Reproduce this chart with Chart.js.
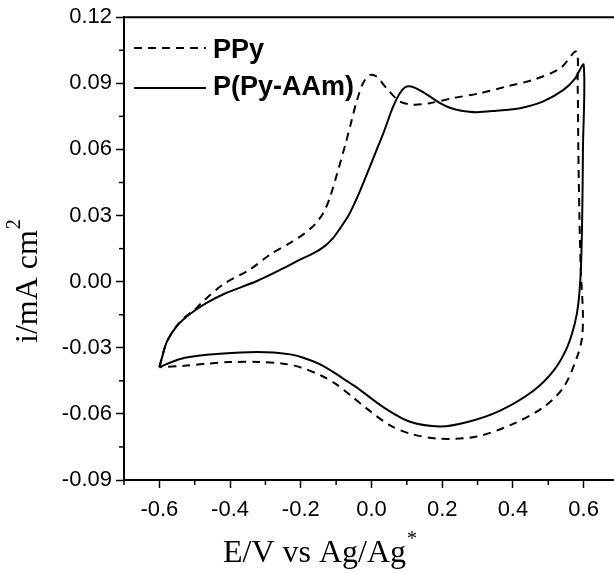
<!DOCTYPE html>
<html>
<head>
<meta charset="utf-8">
<script src="https://cdn.jsdelivr.net/npm/chart.js@4.4.1/dist/chart.umd.min.js"></script>
<style>
    body { margin: 0; background: #fff; overflow: hidden; }
    #wrap { width: 614px; height: 574px; overflow: hidden; }
</style>
</head>
<body>
<div id="wrap"><canvas id="cvChart" width="619" height="574"></canvas></div>
<script>
// PPy loop (dashed)
const ppyE = [-0.600, -0.578, -0.540, -0.494, -0.475, -0.419, -0.343, -0.286, -0.230, -0.190, -0.160, -0.135, -0.117, -0.098, -0.074, -0.058, -0.042, -0.024, -0.005, 0.014, 0.0425, 0.080, 0.118, 0.165, 0.231, 0.307, 0.383, 0.458, 0.534, 0.579,
    0.583, 0.585, 0.588, 0.592, 0.598, 0.595, 0.581, 0.543, 0.486, 0.401, 0.298, 0.194, 0.110, 0.050, -0.014, -0.060, -0.100, -0.140, -0.201, -0.250, -0.320, -0.400, -0.466, -0.530, -0.600];
const ppyI = [-0.0388, -0.0270, -0.0180, -0.0118, -0.0087, -0.0012, 0.0056, 0.0124, 0.0176, 0.0218, 0.0260, 0.0315, 0.0385, 0.0486, 0.0622, 0.0720, 0.0818, 0.0900, 0.0938, 0.0931, 0.0878, 0.0818, 0.0803, 0.0810, 0.0833, 0.0855, 0.0886, 0.0916, 0.0968, 0.1044,
    0.0900, 0.0600, 0.0300, 0.0050, -0.0150, -0.0260, -0.0344, -0.0480, -0.0570, -0.0645, -0.0703, -0.0713, -0.0690, -0.0650, -0.0575, -0.0515, -0.0465, -0.0428, -0.0389, -0.0372, -0.0364, -0.0365, -0.0372, -0.0382, -0.0388];

// P(Py-AAm) loop (solid)
const paamE = [-0.600, -0.590, -0.578, -0.550, -0.514, -0.470, -0.419, -0.324, -0.250, -0.201, -0.165, -0.135, -0.110, -0.088, -0.065, -0.041, -0.015, 0.010, 0.035, 0.060, 0.080, 0.095, 0.108, 0.125, 0.146, 0.170, 0.194, 0.220, 0.250, 0.298, 0.354, 0.420, 0.486, 0.543, 0.575, 0.600,
    0.598, 0.596, 0.592, 0.585, 0.575, 0.553, 0.515, 0.458, 0.364, 0.269, 0.194, 0.109, 0.034, -0.042, -0.080, -0.110, -0.150, -0.195, -0.230, -0.277, -0.371, -0.466, -0.541, -0.600];
const paamI = [-0.0388, -0.0330, -0.0270, -0.0200, -0.0148, -0.0100, -0.0057, 0.0003, 0.0060, 0.0101, 0.0128, 0.0158, 0.0195, 0.0244, 0.0300, 0.0380, 0.0480, 0.0580, 0.0680, 0.0790, 0.0855, 0.0882, 0.0887, 0.0878, 0.0860, 0.0835, 0.0810, 0.0790, 0.0777, 0.0769, 0.0776, 0.0787, 0.0818, 0.0870, 0.0920, 0.0984,
    0.0600, 0.0300, 0.0050, -0.0100, -0.0190, -0.0299, -0.0404, -0.0495, -0.0585, -0.0638, -0.0657, -0.0636, -0.0570, -0.0480, -0.0440, -0.0408, -0.0372, -0.0344, -0.0330, -0.0321, -0.0321, -0.0332, -0.0351, -0.0388];

const seriesNames = ["PPy", "P(Py-AAm)"];
const xTickLabels = [-0.6, -0.4, -0.2, 0.0, 0.2, 0.4, 0.6];
const yTickLabels = [-0.09, -0.06, -0.03, 0.00, 0.03, 0.06, 0.09, 0.12];

function toPoints(xs, ys) {
    return xs.map((x, i) => ({ x: x, y: ys[i] }));
}

function onList(list, v) {
    return list.some(t => Math.abs(t - v) < 1e-6);
}

// minor ticks, top frame line, legend and axis titles
const decorPlugin = {
    id: 'decor',
    afterDraw(chart) {
        const ctx = chart.ctx;
        const area = chart.chartArea;
        const xs = chart.scales.x;
        const ys = chart.scales.y;
        ctx.save();
        ctx.strokeStyle = '#000';
        ctx.lineWidth = 2;
        ctx.beginPath();
        ctx.moveTo(area.left - 1, area.top);
        ctx.lineTo(area.right, area.top);
        ctx.stroke();

        ctx.lineWidth = 1.5;
        for (let k = -7; k <= 7; k++) {
            const v = k / 10;
            if (onList(xTickLabels, v)) continue;
            const px = xs.getPixelForValue(v);
            ctx.beginPath();
            ctx.moveTo(px, area.bottom);
            ctx.lineTo(px, area.bottom + 5);
            ctx.stroke();
        }
        for (let k = -6; k <= 8; k++) {
            const v = k * 0.015;
            if (onList(yTickLabels, v)) continue;
            const py = ys.getPixelForValue(v);
            ctx.beginPath();
            ctx.moveTo(area.left, py);
            ctx.lineTo(area.left - 5, py);
            ctx.stroke();
        }

        // legend
        const legendY = [48, 88];
        const legendBase = [58, 95];
        const dashes = [[8, 6], []];
        ctx.lineWidth = 2;
        for (let i = 0; i < 2; i++) {
            ctx.setLineDash(dashes[i]);
            ctx.beginPath();
            ctx.moveTo(134, legendY[i]);
            ctx.lineTo(206, legendY[i]);
            ctx.stroke();
        }
        ctx.setLineDash([]);
        ctx.fillStyle = '#000';
        ctx.font = 'bold 27px "Liberation Sans", Arial, sans-serif';
        ctx.textBaseline = 'alphabetic';
        ctx.textAlign = 'left';
        ctx.fillText(seriesNames[0], 213, legendBase[0]);
        ctx.fillText(seriesNames[1], 213, legendBase[1]);

        // x title
        ctx.font = '32px "Liberation Serif", "Times New Roman", serif';
        const xTitle = 'E/V vs Ag/Ag';
        ctx.fillText(xTitle, 223, 562);
        const xw = ctx.measureText(xTitle).width;
        ctx.font = '20px "Liberation Serif", "Times New Roman", serif';
        ctx.fillText('*', 223 + xw + 1, 545);

        // y title
        ctx.translate(37, 343);
        ctx.rotate(-Math.PI / 2);
        ctx.font = '32px "Liberation Serif", "Times New Roman", serif';
        const yTitle = 'i/mA cm';
        ctx.fillText(yTitle, 0, 0);
        const yw = ctx.measureText(yTitle).width;
        ctx.font = '20px "Liberation Serif", "Times New Roman", serif';
        ctx.fillText('2', yw + 1, -17);
        ctx.restore();
    }
};

new Chart(document.getElementById('cvChart').getContext('2d'), {
    type: 'scatter',
    data: {
        datasets: [{
            label: seriesNames[0],
            data: toPoints(ppyE, ppyI),
            showLine: true,
            borderColor: '#000',
            borderWidth: 2,
            borderDash: [8, 6],
            pointRadius: 0,
            tension: 0.3
        }, {
            label: seriesNames[1],
            data: toPoints(paamE, paamI),
            showLine: true,
            borderColor: '#000',
            borderWidth: 2,
            pointRadius: 0,
            tension: 0.3
        }]
    },
    options: {
        responsive: false,
        animation: false,
        layout: { padding: { top: 16, left: 0, right: 0, bottom: 0 } },
        plugins: {
            legend: { display: false },
            tooltip: { enabled: false }
        },
        scales: {
            x: {
                type: 'linear',
                min: -0.7,
                max: 0.7,
                afterBuildTicks: (axis) => {
                    axis.ticks = xTickLabels.map(v => ({ value: v }));
                },
                afterFit: (axis) => { axis.height = 94; },
                grid: { drawOnChartArea: false, tickLength: 8, tickWidth: 1.5, tickColor: '#000' },
                border: { display: true, color: '#000', width: 2 },
                ticks: {
                    color: '#000',
                    padding: 9,
                    maxRotation: 0,
                    autoSkip: false,
                    font: { family: '"Liberation Sans", Arial, sans-serif', size: 22 },
                    callback: (v) => Number(v).toFixed(1)
                }
            },
            y: {
                type: 'linear',
                min: -0.09,
                max: 0.12,
                afterBuildTicks: (axis) => {
                    axis.ticks = yTickLabels.map(v => ({ value: v }));
                },
                afterFit: (axis) => { axis.width = 124; },
                grid: { drawOnChartArea: false, tickLength: 8, tickWidth: 1.5, tickColor: '#000' },
                border: { display: true, color: '#000', width: 2 },
                ticks: {
                    color: '#000',
                    padding: 4,
                    autoSkip: false,
                    font: { family: '"Liberation Sans", Arial, sans-serif', size: 22 },
                    callback: (v) => Number(v).toFixed(2)
                }
            }
        }
    },
    plugins: [decorPlugin]
});
</script>
</body>
</html>
